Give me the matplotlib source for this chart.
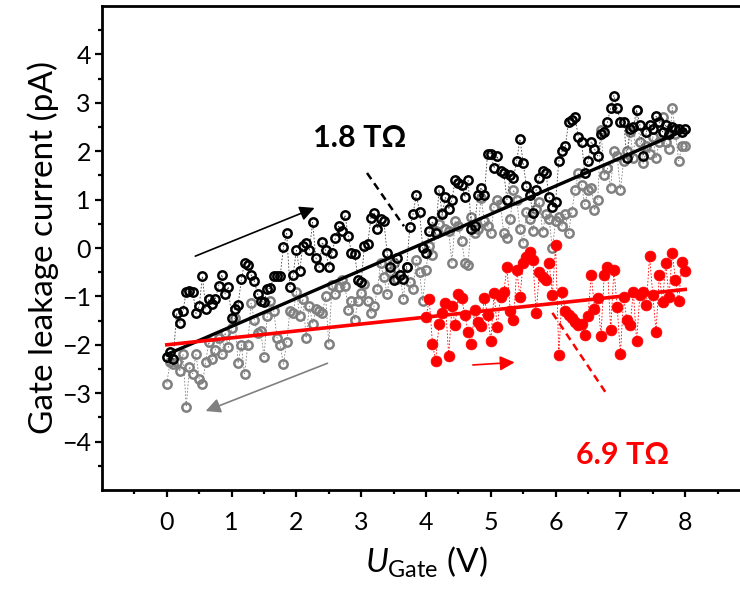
import numpy as np
import matplotlib
matplotlib.use('Agg')
import matplotlib.pyplot as plt

plt.rcParams['font.family'] = ['Lato', 'DejaVu Sans']
plt.rcParams['mathtext.fontset'] = 'custom'
plt.rcParams['mathtext.rm'] = 'Lato'
plt.rcParams['mathtext.it'] = 'Lato:italic'

## data
# forward sweep 0 -> 8 V, step 0.05
up_x = np.round(np.arange(0, 8.001, 0.05), 2)
up_y = [-2.25, -2.15, -2.30, -1.35, -1.55, -1.30, -0.90, -0.88, -0.90, -1.35,
        -1.20, -0.58, -1.25, -1.05, -1.15, -1.05, -0.78, -0.55, -0.95, -0.80,
        -1.45, -1.25, -1.18, -0.65, -0.30, -0.35, -0.55, -0.68, -0.95, -1.10,
        -1.12, -0.85, -0.83, -0.58, -0.58, -0.57, 0.02, 0.30, -0.80, -0.55,
        -0.05, -0.48, 0.05, 0.10, -0.05, 0.53, -0.20, -0.40, 0.12, -0.05,
        -0.40, -0.10, 0.20, 0.45, 0.35, 0.68, 0.25, -0.10, -0.12, -0.66,
        -0.70, 0.05, 0.08, 0.62, 0.72, 0.40, 0.60, 0.55, -0.10, -0.40,
        -0.66, -0.20, -0.55, -0.64, -0.40, 0.43, 0.70, 1.10, 0.75, 0.00,
        -0.10, 0.35, 0.55, 0.30, 1.20, 0.70, 1.05, 0.80, 1.00, 1.40,
        1.35, 1.30, 1.05, 1.40, 0.40, 0.45, 1.10, 1.25, 1.10, 1.95,
        1.95, 1.65, 1.90, 1.60, 1.55, 1.00, 1.50, 1.45, 1.80, 2.25,
        1.75, 1.28, 1.10, 0.72, 1.20, 1.45, 1.60, 1.55, 1.05, 0.85,
        0.95, 1.80, 2.00, 2.10, 2.60, 2.65, 2.70, 2.30, 2.20, 1.55,
        1.80, 2.20, 2.05, 1.90, 2.35, 2.40, 2.60, 2.90, 3.15, 2.90,
        2.60, 2.60, 1.85, 2.45, 2.50, 2.85, 2.55, 1.90, 2.40, 2.55,
        2.45, 2.72, 2.60, 2.40, 2.55, 2.35, 2.50, 2.45, 2.45, 2.40,
        2.45]

# backward sweep 8 -> 0 V (listed from 0 V upwards)
down_x = np.round(np.arange(0, 8.001, 0.05), 2)
down_y = [-2.80, -2.36, -2.40, -2.35, -2.55, -2.20, -3.28, -2.45, -2.60, -2.20,
          -2.70, -2.80, -2.35, -1.94, -2.30, -2.10, -1.85, -2.20, -1.75, -2.05,
          -1.65, -1.45, -2.38, -2.00, -2.60, -2.00, -1.14, -1.48, -1.75, -1.72,
          -2.25, -1.40, -1.10, -1.30, -1.85, -2.00, -2.40, -1.94, -1.30, -1.35,
          -0.90, -1.40, -1.05, -1.86, -1.20, -1.57, -1.27, -1.30, -1.35, -1.00,
          -1.98, -0.77, -0.95, -0.80, -0.66, -0.78, -1.28, -1.10, -1.49, -1.10,
          -0.93, -0.75, -1.10, -1.35, -1.20, -0.85, -0.30, -0.60, -0.95, -0.50,
          -0.30, -0.65, -0.55, -1.05, -0.40, -0.70, -0.85, -0.25, -0.50, -1.10,
          -0.45, 0.05, -0.15, 0.35, 0.50, 0.72, 0.40, 0.35, -0.30, 0.55,
          0.45, 0.15, -0.30, -0.35, 0.65, 0.30, 0.40, 1.03, 0.55, 0.45,
          0.30, 0.85, 1.00, 0.90, 0.30, 0.20, 0.60, 1.20, 1.00, 0.40,
          0.10, 0.75, 0.60, 0.35, 0.80, 0.95, 0.33, 0.70, 0.60, 0.00,
          0.55, 0.65, 0.45, 0.70, 0.30, 0.75, 1.20, 1.55, 1.30, 0.90,
          1.20, 1.25, 0.78, 1.00, 2.44, 1.50, 1.65, 1.25, 2.00, 1.90,
          1.20, 1.80, 2.00, 2.40, 1.85, 2.85, 2.20, 1.75, 2.10, 1.95,
          2.30, 1.85, 2.20, 2.70, 2.20, 2.05, 2.90, 2.35, 1.80, 2.10,
          2.10]

# second device, forward sweep 4 -> 8 V
red_x = np.round(np.arange(4, 8.001, 0.05), 2)
red_y = [-1.43, -1.06, -1.98, -2.33, -1.58, -1.35, -1.13, -2.23, -1.20, -1.59,
         -0.96, -1.04, -1.38, -1.73, -1.98, -1.28, -1.52, -1.62, -1.04, -1.38,
         -1.92, -0.94, -1.64, -1.01, -0.90, -0.40, -1.30, -1.49, -0.45, -1.01,
         -0.32, -0.18, -0.08, -0.25, -1.35, -0.49, -0.59, -0.66, -0.32, -0.97,
         0.06, -2.21, -0.90, -1.31, -1.38, -1.45, -1.52, -1.59, -1.56, -1.80,
         -1.40, -0.56, -1.25, -1.04, -1.82, -0.56, -0.39, -1.69, -0.45, -1.21,
         -2.19, -1.01, -1.49, -1.59, -0.90, -1.93, -0.97, -0.90, -1.18, -0.17,
         -0.97, -1.73, -0.56, -1.11, -0.32, -1.01, -0.11, -0.66, -1.09, -0.28,
         -0.47]

# linear fits (intercept pA, slope pA/V)
fit_black = (-2.20, 0.58)
fit_red = (-2.00, 0.143)
fit_x = [0, 8]

gray = '#808080'
red = '#ff0000'

fig = plt.figure(figsize=(7.4, 5.91), dpi=100)
ax = fig.add_axes([102/740, 101/591, 648/740, 484/591])

ax.plot(down_x, down_y, color=gray, ls=(0, (2, 2)), lw=0.6, marker='o', ms=6,
        mfc='none', mec=gray, mew=1.8, zorder=2)
ax.plot(up_x, up_y, color='#404040', ls=(0, (2, 2)), lw=0.6, marker='o', ms=6,
        mfc='none', mec='black', mew=1.8, zorder=3)
ax.plot(red_x, red_y, color=red, ls=(0, (2, 2)), lw=0.6, marker='o', ms=7.8,
        mfc=red, mec=red, mew=0.5, zorder=4)

fx = np.array(fit_x)
ax.plot(fx, fit_black[0] + fit_black[1]*fx, color='black', lw=2.4, zorder=5)
ax.plot(fx, fit_red[0] + fit_red[1]*fx, color=red, lw=2.6, zorder=6)

# sweep direction arrows
ax.annotate('', xy=(2.32, 0.85), xytext=(0.40, -0.19),
            arrowprops=dict(arrowstyle='-|>', color='black', lw=1.2, mutation_scale=22))
ax.annotate('', xy=(0.56, -3.39), xytext=(2.52, -2.36),
            arrowprops=dict(arrowstyle='-|>', color=gray, lw=1.2, mutation_scale=22))
ax.annotate('', xy=(5.41, -2.36), xytext=(4.68, -2.42),
            arrowprops=dict(arrowstyle='-|>', color=red, lw=1.2, mutation_scale=22))

# labels for the fits
ax.plot([3.09, 3.66], [1.55, 0.45], color='black', ls=(0, (3, 2)), lw=1.8, zorder=7)
ax.plot([5.95, 6.78], [-1.34, -3.0], color=red, ls=(0, (3, 2)), lw=1.8, zorder=7)
ax.text(2.98, 2.27, '1.8 TΩ', fontsize=22, fontweight='bold', color='black',
        ha='center', va='center')
ax.text(7.03, -4.28, '6.9 TΩ', fontsize=22, fontweight='bold', color=red,
        ha='center', va='center')

ax.set_xlim(-1, 9)
ax.set_ylim(-5, 5)
ax.set_xticks(range(0, 9))
ax.set_yticks(range(-4, 5))
ax.set_xticks(np.arange(-0.5, 9, 1), minor=True)
ax.set_yticks(np.arange(-4.5, 5, 1), minor=True)
ax.tick_params(which='both', direction='out', width=1.6, labelsize=18)
ax.tick_params(which='major', length=5)
ax.tick_params(which='minor', length=3)
ax.tick_params(axis='x', pad=10)
ax.tick_params(axis='y', pad=3)
for s in ax.spines.values():
    s.set_linewidth(2)

ax.set_xlabel(r'$\mathit{U}_{\mathrm{Gate}}$ (V)', fontsize=24, labelpad=8)
ax.set_ylabel('Gate leakage current (pA)', fontsize=24, labelpad=2)

fig.savefig('out.png', dpi=100)
